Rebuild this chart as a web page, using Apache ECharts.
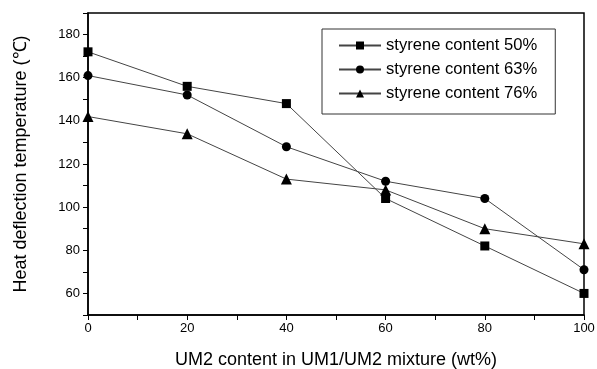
<!DOCTYPE html>
<html>
<head>
<meta charset="utf-8">
<script src="https://cdn.jsdelivr.net/npm/echarts@6/dist/echarts.min.js"></script>
<style>
  html, body { margin: 0; padding: 0; background: #fff; }
  #chart { width: 597px; height: 369px; }
</style>
</head>
<body>
<div id="chart"></div>
<script>
const umContent = [0, 20, 40, 60, 80, 100];
const styrene50 = [172, 156, 148, 104, 82, 60];
const styrene63 = [161, 152, 128, 112, 104, 71];
const styrene76 = [142, 134, 113, 108, 90, 83];
const seriesNames = ['styrene content 50%', 'styrene content 63%', 'styrene content 76%'];

const font = '"Liberation Sans", Arial, sans-serif';

function makeSeries(name, values, symbol) {
  return {
    name,
    type: 'line',
    data: umContent.map((x, i) => [x, values[i]]),
    symbol,
    symbolSize: symbol === 'triangle' ? 11 : 9,
    lineStyle: { color: '#444', width: 1 },
    itemStyle: { color: '#000' },
    emphasis: { disabled: true },
    clip: false
  };
}

const chart = echarts.init(document.getElementById('chart'));
chart.setOption({
  animation: false,
  grid: {
    left: 88, right: 13, top: 13, bottom: 54,
    outerBoundsMode: 'none',
    containLabel: false,
    show: true, borderColor: '#000', borderWidth: 1.5
  },
  legend: {
    orient: 'vertical',
    left: 322, top: 29,
    padding: [8, 18, 12, 16],
    itemGap: 7,
    itemWidth: 42, itemHeight: 10,
    borderColor: '#333', borderWidth: 1,
    textStyle: { fontFamily: font, fontSize: 16.6, color: '#000' },
    data: seriesNames
  },
  xAxis: {
    type: 'value',
    min: 0, max: 100, interval: 20,
    name: 'UM2 content in UM1/UM2 mixture (wt%)',
    nameLocation: 'middle', nameGap: 36,
    nameTextStyle: { fontFamily: font, fontSize: 18, color: '#000' },
    axisLine: { lineStyle: { color: '#000', width: 1.5 } },
    axisTick: { length: 5, lineStyle: { color: '#000' } },
    minorTick: { show: true, splitNumber: 2, length: 5, lineStyle: { color: '#000' } },
    axisLabel: { fontFamily: font, fontSize: 13, color: '#000', margin: 7 },
    splitLine: { show: false }
  },
  yAxis: {
    type: 'value',
    min: 50, max: 190, interval: 10,
    name: 'Heat deflection temperature (℃)',
    nameLocation: 'middle', nameGap: 58,
    nameTextStyle: { fontFamily: font, fontSize: 18, color: '#000' },
    axisLine: { show: true, lineStyle: { color: '#000', width: 1.5 } },
    axisTick: { length: 5, lineStyle: { color: '#000' } },
    axisLabel: {
      fontFamily: font, fontSize: 13, color: '#000', margin: 8,
      formatter: v => (v % 20 === 0 ? v : '')
    },
    splitLine: { show: false }
  },
  series: [
    makeSeries(seriesNames[0], styrene50, 'rect'),
    makeSeries(seriesNames[1], styrene63, 'circle'),
    makeSeries(seriesNames[2], styrene76, 'triangle')
  ]
});
</script>
</body>
</html>
